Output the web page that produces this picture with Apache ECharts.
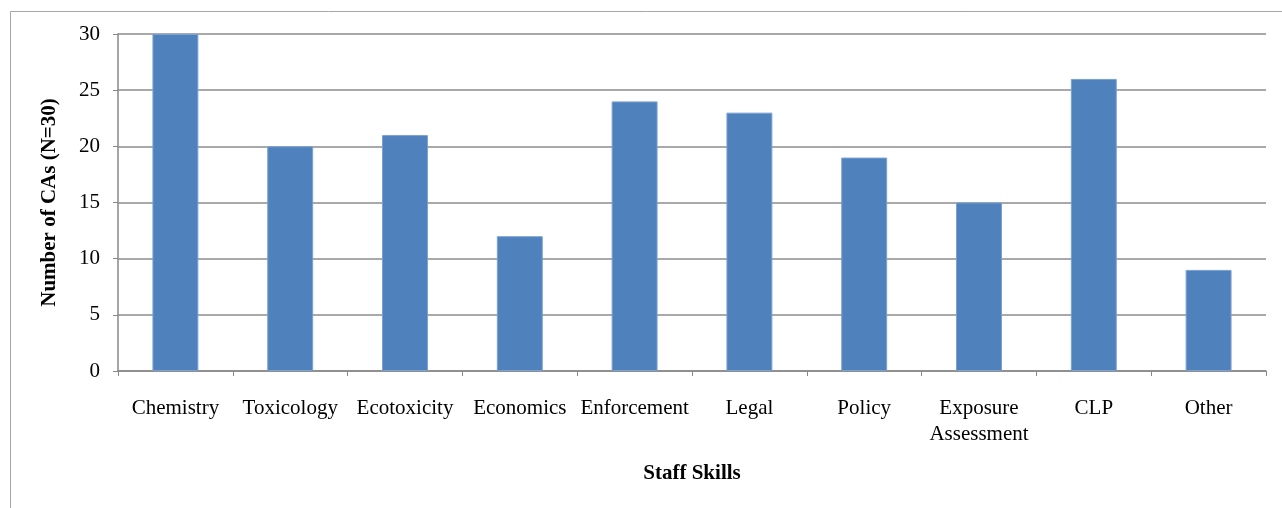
<!DOCTYPE html>
<html><head><meta charset="utf-8">
<script src="https://cdn.jsdelivr.net/npm/echarts@6/dist/echarts.min.js"></script>
<style>html,body{margin:0;padding:0;background:#fff}#c{width:1282px;height:508px}</style>
</head><body><div id="c"></div>
<script>
const categories = ['Chemistry','Toxicology','Ecotoxicity','Economics','Enforcement','Legal','Policy','Exposure\nAssessment','CLP','Other'];
const values = [30,20,21,12,24,23,19,15,26,9];
const yTicks = [0,5,10,15,20,25,30];
const chart = echarts.init(document.getElementById('c'), null, {renderer:'canvas'});
const font = '"Liberation Serif","Times New Roman",serif';
chart.setOption({
  animation:false,
  textStyle:{fontFamily:font},
  graphic:[{type:'rect',shape:{x:10.5,y:11.5,width:1400,height:700},style:{fill:'none',stroke:'#a6a6a6',lineWidth:1},silent:true}],
  grid:{left:118,right:16,top:34,bottom:137,containLabel:false},
  xAxis:{type:'category',data:categories,
    axisLine:{lineStyle:{color:'#888',width:1.5}},
    axisTick:{show:true,length:5,lineStyle:{color:'#888'}},
    axisLabel:{color:'#000',fontSize:21,fontFamily:font,margin:24,interval:0,lineHeight:26},
    name:'Staff Skills',nameLocation:'middle',nameGap:92,
    nameTextStyle:{color:'#000',fontSize:21,fontWeight:'bold',fontFamily:font}},
  yAxis:{type:'value',min:yTicks[0],max:yTicks[yTicks.length-1],interval:5,
    axisLine:{show:true,lineStyle:{color:'#888',width:1.5}},
    axisTick:{show:true,length:5,inside:false,lineStyle:{color:'#888'}},
    splitLine:{lineStyle:{color:'#8c8c8c',width:1.5}},
    axisLabel:{color:'#000',fontSize:21,fontFamily:font,margin:18},
    name:'Number of CAs (N=30)',nameLocation:'middle',nameGap:58,
    nameTextStyle:{color:'#000',fontSize:21,fontWeight:'bold',fontFamily:font}},
  series:[{type:'bar',data:values,barWidth:'40%',
    itemStyle:{color:'#4f81bd',borderColor:'#7aa0d4',borderWidth:1}}]
});
</script></body></html>
